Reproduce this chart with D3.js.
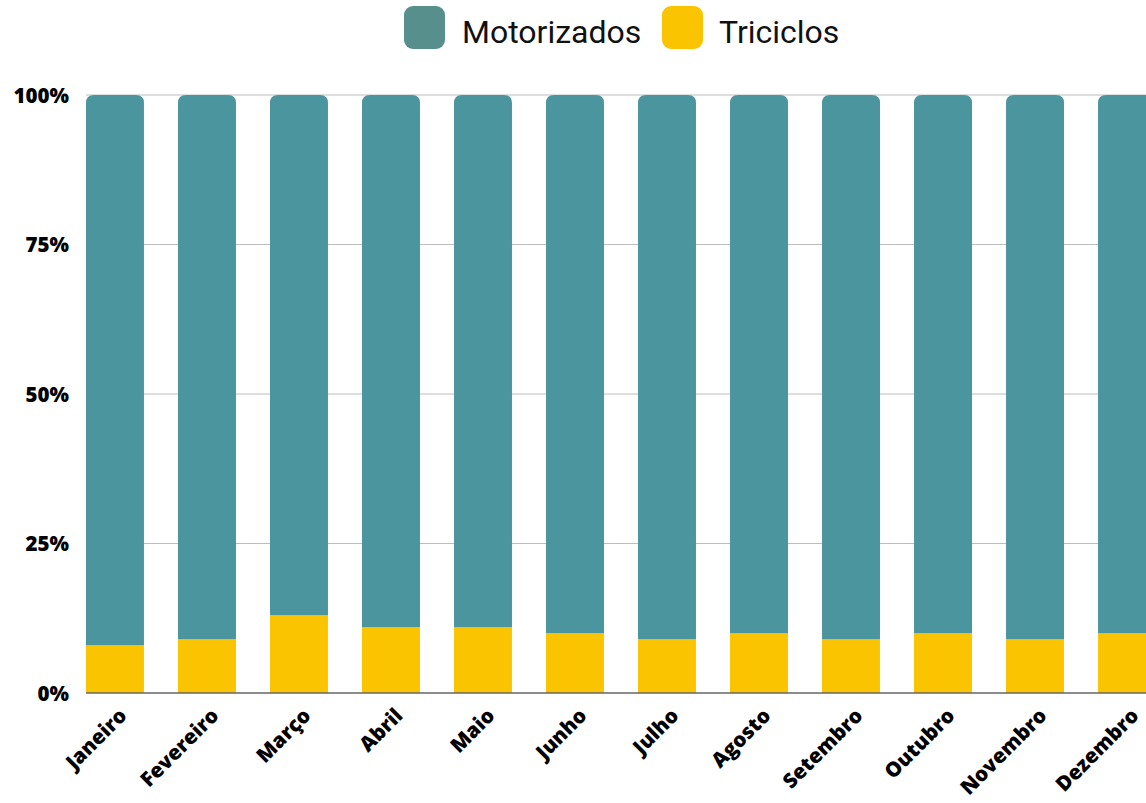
<!DOCTYPE html>
<html><head><meta charset="utf-8">
<script src="https://cdn.jsdelivr.net/npm/d3@7/dist/d3.min.js"></script>
<style>
html,body{margin:0;padding:0;background:#fff;overflow:hidden;}
svg{display:block;}
</style></head>
<body>
<svg id="chart" width="1146" height="803"></svg>
<script>
const months = ["Janeiro","Fevereiro","Março","Abril","Maio","Junho","Julho","Agosto","Setembro","Outubro","Novembro","Dezembro"];
const triciclos = [8,9,13,11,11,10,9,10,9,10,9,10];
const motorizados = [92,91,87,89,89,90,91,90,91,90,91,90];
const seriesNames = ["Motorizados","Triciclos"];
const yTicks = [0,25,50,75,100];

const colors = {Motorizados:"#4A959E", Triciclos:"#FAC500"};
const legendColors = {Motorizados:"#568F8C", Triciclos:"#FAC500"};

const svg = d3.select("#chart");
const plotTop = 95, plotBottom = 693, plotLeft = 86, plotRight = 1156;

const x = d3.scaleBand().domain(months).range([plotLeft, plotRight]).paddingInner(0.37).paddingOuter(0);
const y = d3.scaleLinear().domain([0,100]).range([plotBottom, plotTop]);

// gridlines
svg.append("g").selectAll("line").data(yTicks.filter(d=>d>0)).join("line")
  .attr("x1", plotLeft).attr("x2", 1146)
  .attr("y1", d=>y(d)).attr("y2", d=>y(d))
  .attr("stroke", "#bdbdbd").attr("stroke-width", 1.2);

// data table
const data = months.map((m,i)=>({month:m, Triciclos:triciclos[i], Motorizados:motorizados[i]}));
const stack = d3.stack().keys(["Triciclos","Motorizados"])(data);

const r = 8;
stack.forEach(layer=>{
  const key = layer.key;
  svg.append("g").selectAll("path").data(layer).join("path")
    .attr("fill", colors[key])
    .attr("d", d=>{
      const x0 = x(d.data.month), w = x.bandwidth();
      const yb = y(d[0]), yt = y(d[1]);
      if (key === "Motorizados") {
        const p = d3.path();
        p.moveTo(x0, yb);
        p.lineTo(x0, yt + r);
        p.quadraticCurveTo(x0, yt, x0 + r, yt);
        p.lineTo(x0 + w - r, yt);
        p.quadraticCurveTo(x0 + w, yt, x0 + w, yt + r);
        p.lineTo(x0 + w, yb);
        p.closePath();
        return p.toString();
      }
      return `M${x0},${yb}H${x0+w}V${yt}H${x0}Z`;
    });
});

// baseline
svg.append("line").attr("x1", plotLeft).attr("x2", 1146)
  .attr("y1", y(0)).attr("y2", y(0))
  .attr("stroke", "#666").attr("stroke-width", 1.3);

// y axis labels
const yAxis = d3.axisLeft(y).tickValues(yTicks).tickFormat(d=>d+"%").tickSize(0).tickPadding(0);
const yg = svg.append("g").attr("transform", `translate(69,0)`).call(yAxis);
yg.select(".domain").remove();
yg.selectAll("text").attr("font-family","'Open Sans', sans-serif").attr("font-weight",800)
  .attr("font-size", 20.5).attr("fill","#000").attr("dy","0.35em");

// x axis labels
const xAxis = d3.axisBottom(x).tickSize(0).tickPadding(0);
const xg = svg.append("g").attr("transform", `translate(0,${plotBottom})`).call(xAxis);
xg.select(".domain").remove();
xg.selectAll("text")
  .attr("font-family","'Open Sans', sans-serif").attr("font-weight",800)
  .attr("font-size", 20.5).attr("fill","#000")
  .attr("text-anchor","end")
  .attr("y", 0).attr("dy", 0)
  .attr("transform", "translate(13,24) rotate(-45)");

// legend
const legend = svg.append("g");
const legItems = [{name:"Motorizados", sx:404, tx:462},{name:"Triciclos", sx:662, tx:719}];
legItems.forEach(it=>{
  legend.append("rect").attr("x", it.sx).attr("y", 6).attr("width", 41).attr("height", 43)
    .attr("rx", 9).attr("fill", legendColors[it.name]);
  legend.append("text").attr("x", it.tx).attr("y", 43).text(it.name)
    .attr("font-family","Roboto, sans-serif").attr("font-size", 32).attr("fill","#111");
});
</script>
</body></html>
